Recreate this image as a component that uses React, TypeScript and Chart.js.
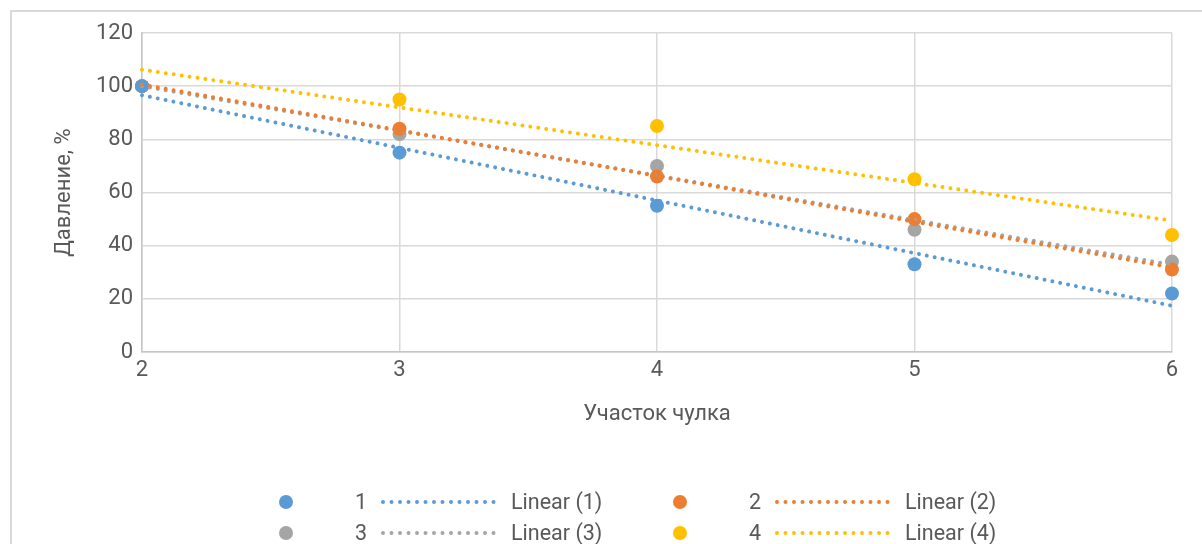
import React, { useEffect, useRef } from "react";
import { Chart, registerables } from "chart.js";

Chart.register(...registerables);

// ---- data ----
const xValues = [2, 3, 4, 5, 6];
const series1 = [100, 75, 55, 33, 22];
const series2 = [100, 84, 66, 50, 31];
const series3 = [100, 82, 70, 46, 34];
const series4 = [100, 95, 85, 65, 44];
const seriesValues = [series1, series2, series3, series4];
const seriesNames = ["1", "2", "3", "4"];
const seriesColors = ["#5B9BD5", "#ED7D31", "#A5A5A5", "#FFC000"];
// marker stacking (lower = on top), trendline stacking
const markerOrder = [10, 11, 12, 13];
const trendOrder = [2, 0, 1, 3];
const xAxisTitle = "Участок чулка";
const yAxisTitle = "Давление, %";
const xMin = 2;
const xMax = 6;
const yMin = 0;
const yMax = 120;
const yStep = 20;

const FONT = "Roboto, 'Noto Sans', sans-serif";
const TEXT = "#595959";
const FS = 22;

function linearFit(xs: number[], ys: number[]) {
  const n = xs.length;
  const mx = xs.reduce((a, b) => a + b, 0) / n;
  const my = ys.reduce((a, b) => a + b, 0) / n;
  let sxy = 0;
  let sxx = 0;
  for (let i = 0; i < n; i++) {
    sxy += (xs[i] - mx) * (ys[i] - my);
    sxx += (xs[i] - mx) * (xs[i] - mx);
  }
  const slope = sxy / sxx;
  return { slope, intercept: my - slope * mx };
}

function LegendEntry({ idx }: { idx: number }) {
  const color = seriesColors[idx];
  return (
    <div style={{ display: "flex", alignItems: "center", width: 394, height: 31 }}>
      <div style={{ width: 14, height: 14, borderRadius: 7, background: color, marginRight: 62, flex: "none" }} />
      <span style={{ width: 25, flex: "none" }}>{seriesNames[idx]}</span>
      <svg width={125} height={8} style={{ flex: "none", marginRight: 6 }}>
        <line
          x1={3}
          y1={4}
          x2={122}
          y2={4}
          stroke={color}
          strokeWidth={4}
          strokeLinecap="round"
          strokeDasharray="0 8.5"
        />
      </svg>
      <span>{`Linear (${seriesNames[idx]})`}</span>
    </div>
  );
}

export default function App() {
  const canvasRef = useRef<HTMLCanvasElement | null>(null);

  useEffect(() => {
    document.body.style.margin = "0";
    document.body.style.overflow = "hidden";
    const ctx = canvasRef.current;
    if (!ctx) return;

    const datasets: any[] = [];
    seriesValues.forEach((vals, i) => {
      const fit = linearFit(xValues, vals);
      const x0 = Math.min(...xValues);
      const x1 = Math.max(...xValues);
      datasets.push({
        type: "line",
        label: `Linear (${seriesNames[i]})`,
        data: [
          { x: x0, y: fit.intercept + fit.slope * x0 },
          { x: x1, y: fit.intercept + fit.slope * x1 },
        ],
        borderColor: seriesColors[i],
        backgroundColor: seriesColors[i],
        borderWidth: 4,
        borderDash: [0.01, 8],
        borderCapStyle: "round",
        pointRadius: 0,
        fill: false,
        clip: false,
        order: trendOrder[i],
      });
    });
    seriesValues.forEach((vals, i) => {
      datasets.push({
        type: "scatter",
        label: seriesNames[i],
        data: xValues.map((x, j) => ({ x, y: vals[j] })),
        backgroundColor: seriesColors[i],
        borderColor: seriesColors[i],
        borderWidth: 0,
        pointRadius: 7,
        clip: false,
        order: markerOrder[i],
      });
    });

    const chart = new Chart(ctx, {
      type: "scatter",
      data: { datasets },
      options: {
        animation: false,
        responsive: false,
        maintainAspectRatio: false,
        layout: { padding: { left: 51, top: 33, right: 30, bottom: 116 } },
        plugins: {
          legend: { display: false },
          tooltip: { enabled: false },
        },
        scales: {
          x: {
            type: "linear",
            min: xMin,
            max: xMax,
            afterFit: (scale: any) => {
              scale.height = 76;
            },
            ticks: {
              stepSize: 1,
              color: TEXT,
              font: { family: FONT, size: FS },
              padding: 5,
            },
            grid: { color: "#D9D9D9", lineWidth: 1.5, drawTicks: false },
            border: { color: "#C6C6C6", width: 1.5 },
            title: {
              display: true,
              text: xAxisTitle,
              color: TEXT,
              font: { family: FONT, size: FS },
              padding: 0,
            },
          },
          y: {
            type: "linear",
            min: yMin,
            max: yMax,
            afterFit: (scale: any) => {
              scale.width = 91;
            },
            ticks: {
              stepSize: yStep,
              color: TEXT,
              font: { family: FONT, size: FS },
              padding: 9,
            },
            grid: { color: "#D9D9D9", lineWidth: 1.5, drawTicks: false },
            border: { color: "#C6C6C6", width: 1.5 },
            title: {
              display: true,
              text: yAxisTitle,
              color: TEXT,
              font: { family: FONT, size: FS },
              padding: 0,
            },
          },
        },
      },
    } as any);

    return () => chart.destroy();
  }, []);

  return (
    <div style={{ position: "relative", width: 1202, height: 544, overflow: "hidden", background: "#fff" }}>
      <div
        style={{
          position: "absolute",
          left: 10,
          top: 10,
          width: 1300,
          height: 700,
          borderLeft: "2px solid #D9D9D9",
          borderTop: "2px solid #D9D9D9",
        }}
      />
      <canvas ref={canvasRef} width={1202} height={544} style={{ position: "absolute", left: 0, top: 0 }} />
      <div
        style={{
          position: "absolute",
          left: 279,
          top: 486,
          display: "grid",
          gridTemplateColumns: "394px 394px",
          fontFamily: FONT,
          fontSize: 21.5,
          color: TEXT,
        }}
      >
        <LegendEntry idx={0} />
        <LegendEntry idx={1} />
        <LegendEntry idx={2} />
        <LegendEntry idx={3} />
      </div>
    </div>
  );
}
